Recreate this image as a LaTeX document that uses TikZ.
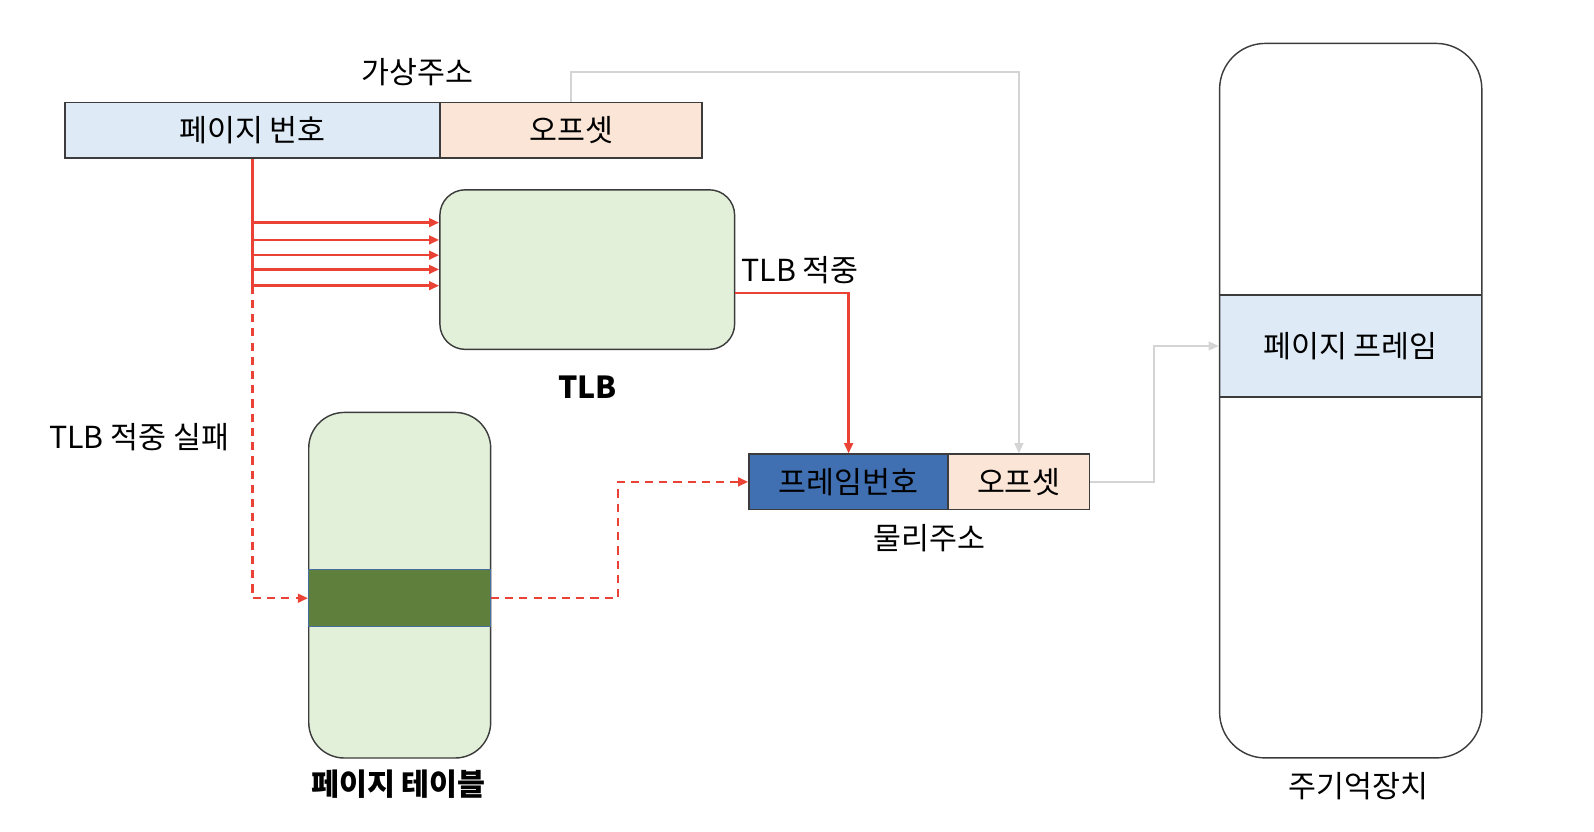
\documentclass[tikz,border=0pt]{standalone}
\usepackage{fontspec}
\setmainfont{Noto Sans CJK KR}
\usetikzlibrary{arrows.meta}
\definecolor{pageblue}{RGB}{222,235,247}
\definecolor{offpeach}{RGB}{250,229,214}
\definecolor{tlbgreen}{RGB}{226,240,217}
\definecolor{framefill}{RGB}{64,112,178}
\definecolor{entrygreen}{RGB}{95,128,60}
\definecolor{entryline}{RGB}{70,110,160}
\definecolor{hitred}{RGB}{234,67,53}
\definecolor{addrgray}{RGB}{212,212,212}
\definecolor{boxline}{RGB}{60,60,60}

\begin{document}
\begin{tikzpicture}[
        x=0.02cm, y=-0.02cm,
        >={Triangle[length=0.2cm,width=0.17cm]},
        font=\fontsize{17}{20}\selectfont,
        field/.style={draw=boxline, line width=0.9pt, inner sep=0pt,
            anchor=north west, minimum height=1.09cm},
        store/.style={draw=boxline, line width=0.8pt, inner sep=0pt,
            anchor=north west},
        hit/.style={hitred, line width=1.4pt},
        miss/.style={hitred, line width=1.4pt, dash pattern=on 0.16cm off 0.12cm},
        addr/.style={addrgray, line width=1.1pt},
        caption/.style={font=\fontsize{17}{20}\selectfont\bfseries}
        ]
        \useasboundingbox (0,0) rectangle (1568,818);

        % virtual address
        \node[field, fill=pageblue, minimum width=7.38cm] (pn) at (63,100) {};
        \node at (pn.center) {페이지 번호};
        \node[field, fill=offpeach, minimum width=5.16cm] (off) at (432,100) {};
        \node at (off.center) {오프셋};
        \node (va) at (411,71) {가상주소};

        % TLB
        \node[store, fill=tlbgreen, rounded corners=0.5cm,
            minimum width=5.8cm, minimum height=3.14cm] (tlb) at (432,186) {};
        \node[caption] (tlbname) at (578,381) {TLB};

        % page table
        \node[store, fill=tlbgreen, rounded corners=0.7cm,
            minimum width=3.58cm, minimum height=6.8cm] (pt) at (303,405) {};
        \node[draw=entryline, line width=0.5pt, fill=entrygreen, inner sep=0pt,
            anchor=north west, minimum width=3.58cm, minimum height=1.12cm] (pte) at (303,560) {};
        \node[caption] (ptname) at (392,771) {페이지 테이블};

        % physical address
        \node[field, fill=framefill, minimum width=3.92cm] (fn) at (736,446) {};
        \node at (fn.center) {프레임번호};
        \node[field, fill=offpeach, minimum width=2.78cm] (poff) at (932,446) {};
        \node at (poff.center) {오프셋};
        \node (pa) at (914,529) {물리주소};

        % main memory
        \node[fill=pageblue, inner sep=0pt, anchor=north west,
            minimum width=5.16cm, minimum height=2cm] (frame) at (1199,290) {};
        \draw[boxline, line width=0.8pt] (frame.north west) -- (frame.north east)
            (frame.south west) -- (frame.south east);
        \node at (frame.center) {페이지 프레임};
        \node[store, rounded corners=0.9cm,
            minimum width=5.16cm, minimum height=14.06cm] (mem) at (1199,42) {};
        \node (memname) at (1336,773) {주기억장치};

        % TLB lookup
        \draw[hit] (pn.south) -- (pn.south |- 0,281);
        \foreach \y in {219,236,251,265,281}
            \draw[hit,->] (pn.south |- 0,\y) -- (tlb.west |- 0,\y);
        \draw[hit,->] (tlb.east |- 0,288) -| (fn.north);
        \node (hitlabel) at (787,266) {TLB 적중};

        % TLB miss
        \draw[miss,->] (pn.south |- 0,281) |- (pte.west);
        \draw[miss,->] (pte.east) -- ++(125,0) |- (fn.west);
        \node (misslabel) at (137,430) {TLB 적중 실패};

        % offset and frame
        \draw[addr,->] (off.north) -- ++(0,-29) -| (poff.north);
        \draw[addr,->] (poff.east) -- ++(63,0) |- (frame.west);
\end{tikzpicture}
\end{document}
